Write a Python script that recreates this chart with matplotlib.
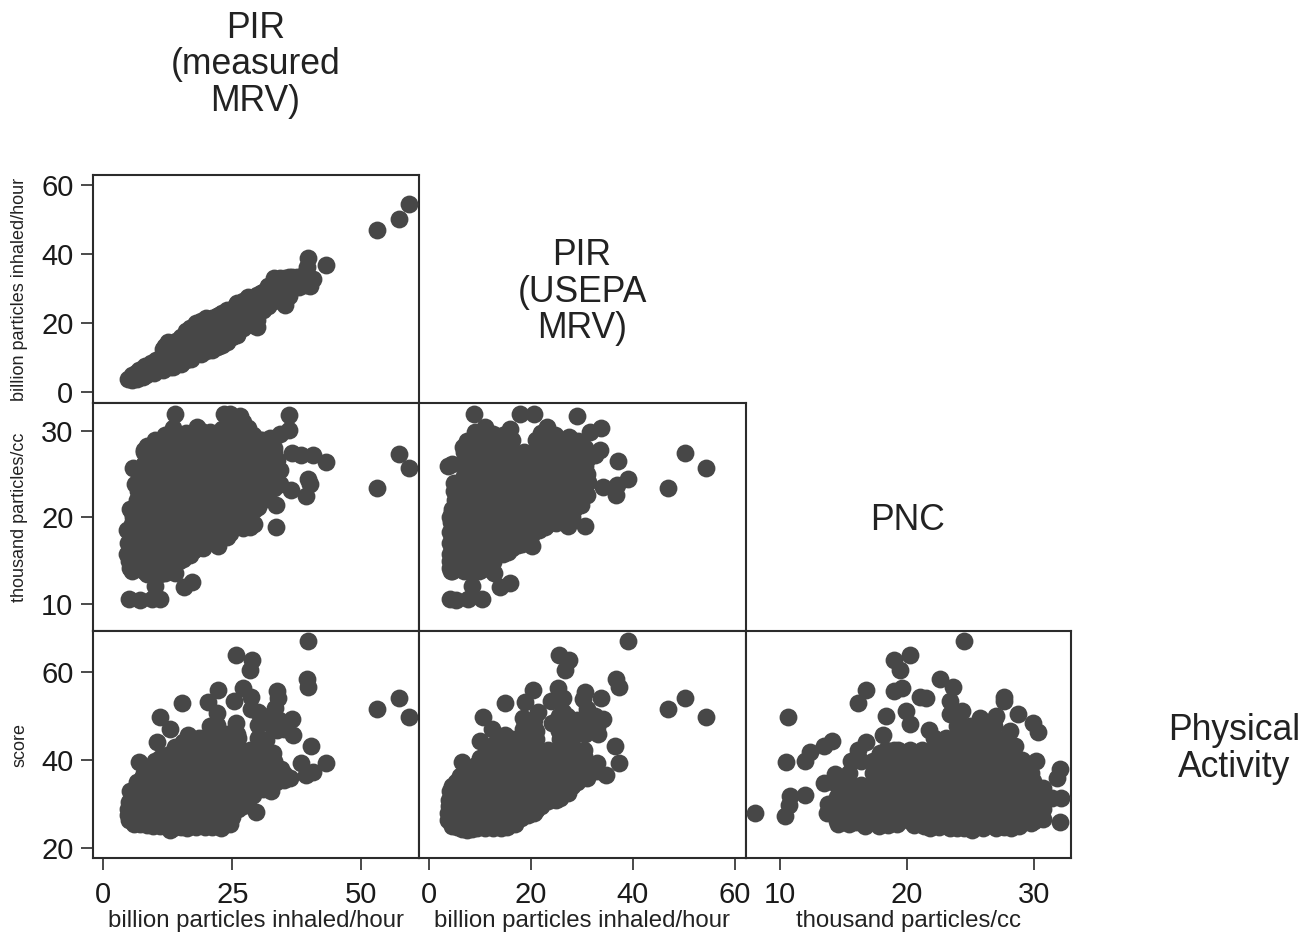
import matplotlib
matplotlib.use('Agg')
import matplotlib.pyplot as plt

plt.rcParams['font.family'] = ['Liberation Sans', 'DejaVu Sans']

# values, (x, y) for each panel
# top left: PIR measured MRV vs PIR USEPA MRV
measured_usepa = [
    (4.8,3.8),(5.5,3.6),(5.6,5.0),(6.2,4.2),(6.4,5.6),(6.9,6.6),(7.2,4.6),(7.6,5.8),(8,7.6),(8.3,5.0),
    (8.8,6.4),(9.2,8.4),(9.5,5.8),(9.8,7.2),(10.3,9.4),(10.5,6.4),(11,8),(11.3,10.2),(11.6,6.9),(12,9),
    (12.2,11.5),(12.6,14.7),(12.8,7.5),(13,10),(13.2,12.8),(13.6,7.4),(14,9),(14,11),(14.4,13.4),
    (15,8.3),(15,10.5),(15,12.5),(15,14.5),(15.2,15.5),(16,9.5),(16,11.5),(16,13.5),(16,15.5),(16,17),
    (17,10.5),(17,12.5),(17,14.5),(17,16.5),(16.8,18.6),(18,11),(18,13),(18,15),(18,17),(18,19),
    (19,11.5),(19,13.5),(19,15.5),(19,17.5),(19,19.5),(20,12),(20,14),(20,16),(20,18),(20,20),(20,21.4),
    (21,12.3),(21,14.3),(21,16.3),(21,18.3),(21,20.3),(21,21.5),(22,13),(22,15),(22,17),(22,19),(22,21),(22,22),
    (23,13.8),(23,15.8),(23,17.8),(23,19.8),(23,21.8),(23,23),(24,15),(24,17),(24,19),(24,21),(24,23),(24,24),
    (25,16),(25,18),(25,20),(25,22),(25,24),(25.8,25.3),(26,17),(26,19),(26,21),(26,23),(26,25),
    (27,18.5),(27,20.5),(27,22.5),(27,24.5),(27,26),(28,20),(28,22),(28,24),(28,26),(28,27.5),
    (29,21),(29,23),(29,25),(29,27),(29.7,19),(29.7,21),(29.7,23),(29.7,25),(29.7,27),(29.7,28.2),
    (31,24),(31,26),(31,28),(31,29),(32,25),(32,27),(32,29),(32,30.5),(33,26.5),(33,28.5),(33,30.5),(33,32),
    (34.2,27),(34.2,29),(34.2,31),(34.2,33),(35.2,25.3),(35.5,29.2),(35.2,31),(35.2,33),(36.5,30),(36.5,32),(36.5,33.5),
    (38,31.5),(38,33),(39.3,31.1),(39.3,33),(39.3,35),(39.4,36.4),(39.7,38.8),(40.7,32.8),(43.2,36.9),
    (53,47),(57.3,50.1),(59.2,54.5),
    (11.5,12.5),(12,13.5),(14,15),(18,20),(17.5,19.3),(15,16),(16,17.8),(19,20.8),(22.5,22.5),(27,26.5),(26,26),
    (30.5,28.7),(32,30.8),(33,33),(36,33.5),(37.5,33.5),(38,30.5),(40,30.8),(36,28),(29,19.5),(28.5,20.5),(26,16.5),
    (24,14.7),(22.5,13.3),(19,11),(17,9.7),(15,8.5),(13,7.4),(11.5,6.6),(9.8,5.5),(7.6,4.4),(6.5,3.8),
]

# middle left: PIR measured MRV vs PNC
measured_pnc = [
    (53,23.35),(57.3,27.4),(59.2,25.7),(43.2,26.4),(40.7,27.2),(38.4,27.2),(36.5,27.5),(39.7,24.5),(40,23.9),(39.3,22.5),
    (36.4,23.2),(33.5,21.4),(33.5,18.9),(35.9,31.9),(35.9,30.1),(34.2,29.7),(13.8,32),(13.6,30.3),(18.1,30.5),(23.3,32),
    (24.5,32),(26.5,31.7),(28.1,30.3),(24.9,29.9),(20.7,29.9),(10.3,28.6),(7.8,27.8),(5.7,25.7),(6.1,23.9),(5.8,20),
    (4.5,18.5),(4.5,15.8),(5.2,14.1),(13.9,13.6),(10,12.1),(17.1,12.5),(15.6,11.9),(5,10.6),(7.1,10.4),(9.4,10.6),
    (11,10.5),(8.4,13.5),(16.8,15.6),(14.9,15.4),(22.3,16.7),(20,17),(28.4,18.9),(28.4,20),(25.2,18.9),(23.9,17.7),
    (30,21.2),(31.7,22.8),(34.2,23.9),(34.2,25.5),(33.6,26.6),(30.4,29),(32.3,29.2),(16,29.8),(23,30.2),
    (10.1,29),(12.4,29),(14.7,29),(17,29),(19.3,29),(21.6,29),(23.9,29),(26.2,29),(28.5,29),(30.8,29),
    (7.8,27.6),(10.1,27.6),(12.4,27.6),(14.7,27.6),(17,27.6),(19.3,27.6),(21.6,27.6),(23.9,27.6),(26.2,27.6),(28.5,27.6),(30.8,27.6),(33.1,27.6),
    (7.8,26.2),(10.1,26.2),(12.4,26.2),(14.7,26.2),(17,26.2),(19.3,26.2),(21.6,26.2),(23.9,26.2),(26.2,26.2),(28.5,26.2),(30.8,26.2),(33.1,26.2),
    (7.8,24.8),(10.1,24.8),(12.4,24.8),(14.7,24.8),(17,24.8),(19.3,24.8),(21.6,24.8),(23.9,24.8),(26.2,24.8),(28.5,24.8),(30.8,24.8),(33.1,24.8),
    (7.8,23.4),(10.1,23.4),(12.4,23.4),(14.7,23.4),(17,23.4),(19.3,23.4),(21.6,23.4),(23.9,23.4),(26.2,23.4),(28.5,23.4),(30.8,23.4),(33.1,23.4),
    (7.8,22),(10.1,22),(12.4,22),(14.7,22),(17,22),(19.3,22),(21.6,22),(23.9,22),(26.2,22),(28.5,22),(30.8,22),
    (5.5,20.6),(7.8,20.6),(10.1,20.6),(12.4,20.6),(14.7,20.6),(17,20.6),(19.3,20.6),(21.6,20.6),(23.9,20.6),(26.2,20.6),(28.5,20.6),
    (5.5,19.2),(7.8,19.2),(10.1,19.2),(12.4,19.2),(14.7,19.2),(17,19.2),(19.3,19.2),(21.6,19.2),(23.9,19.2),(26.2,19.2),
    (5.5,17.8),(7.8,17.8),(10.1,17.8),(12.4,17.8),(14.7,17.8),(17,17.8),(19.3,17.8),(21.6,17.8),
    (5.5,16.4),(7.8,16.4),(10.1,16.4),(12.4,16.4),(14.7,16.4),(17,16.4),(19.3,16.4),
    (5.5,15),(7.8,15),(10.1,15),(12.4,15),(14.7,15),
    (5.5,13.8),(7.8,13.8),(10.1,13.8),
    (6.5,22),(6.8,23),(5.2,21),(4.8,17),(5,15),(5.5,14),(8.5,28.3),(12,29.5),(15.5,29.6),(19,30),(22,29.5),(26.5,29.8),
    (27,31),(25.5,30.5),(29,29.5),(31.3,28.5),(33,28),(32.5,24),(32,23.3),(31,22),(29.5,21),(29.2,19.2),(27,18.8),
    (24.5,18.2),(22,18),(19,16.8),(17.5,16.2),(15.5,15.2),(13,14.5),(11,13.5),(12,13.6),
]

# middle centre: PIR USEPA MRV vs PNC
usepa_pnc = [
    (46.9,23.35),(50.2,27.5),(54.3,25.7),(37.1,26.5),(39.1,24.4),(36.8,23.7),(36.7,22.6),(34.2,23.5),(29.9,21.4),(30.6,19),
    (29,31.7),(33.7,30.3),(31.6,29.9),(33.5,27.8),(32.5,27.2),(8.9,32),(17.8,32),(20.5,32),(23.1,30.5),(15.9,30.2),
    (11,30.5),(9,29.9),(6.7,28.2),(3.7,25.9),(5.4,23.9),(5.1,22),(4.1,20),(4.1,18.3),(4.1,15.8),(4.1,14.1),
    (12.8,13.6),(8.4,12.1),(15.9,12.4),(13.9,11.9),(4.1,10.6),(5.2,10.4),(7.7,10.6),(10.3,10.5),(20.1,16.7),(18.2,16.9),
    (14.6,15.8),(8.4,13.7),(22.7,18.9),(27.3,19),(26,19.9),(26.7,21.2),(30.9,22.6),(31.2,24.1),(30.6,25.9),(29.3,28.8),(26,29),
    (9.2,29),(11.55,29),(13.9,29),(16.25,29),(20.95,29),(23.3,29),(25.65,29),(28,29),
    (6.85,27.6),(9.2,27.6),(11.55,27.6),(13.9,27.6),(16.25,27.6),(18.6,27.6),(20.95,27.6),(23.3,27.6),(25.65,27.6),(28,27.6),(30.35,27.6),
    (4.5,26.2),(6.85,26.2),(9.2,26.2),(11.55,26.2),(13.9,26.2),(16.25,26.2),(18.6,26.2),(20.95,26.2),(23.3,26.2),(25.65,26.2),(28,26.2),(30.35,26.2),
    (6.85,24.8),(9.2,24.8),(11.55,24.8),(13.9,24.8),(16.25,24.8),(18.6,24.8),(20.95,24.8),(23.3,24.8),(25.65,24.8),(28,24.8),(30.35,24.8),
    (6.85,23.4),(9.2,23.4),(11.55,23.4),(13.9,23.4),(16.25,23.4),(18.6,23.4),(20.95,23.4),(23.3,23.4),(25.65,23.4),(28,23.4),(30.35,23.4),
    (6.85,22),(9.2,22),(11.55,22),(13.9,22),(16.25,22),(18.6,22),(20.95,22),(23.3,22),(25.65,22),(28,22),
    (4.5,20.6),(6.85,20.6),(9.2,20.6),(11.55,20.6),(13.9,20.6),(16.25,20.6),(18.6,20.6),(20.95,20.6),(23.3,20.6),(25.65,20.6),
    (4.5,19.2),(6.85,19.2),(9.2,19.2),(11.55,19.2),(13.9,19.2),(16.25,19.2),(18.6,19.2),(20.95,19.2),(23.3,19.2),
    (4.5,17.8),(6.85,17.8),(9.2,17.8),(11.55,17.8),(13.9,17.8),(16.25,17.8),(18.6,17.8),
    (4.5,16.4),(6.85,16.4),(9.2,16.4),(11.55,16.4),(13.9,16.4),(16.25,16.4),
    (4.5,15),(6.85,15),(9.2,15),(11.55,15),
    (4.5,13.8),(6.85,13.8),(9.2,13.8),
    (5,24),(5,23),(4.5,21),(4.3,19.5),(4.2,17),(4.2,15),(4.4,13.8),(7.5,28.8),(12.5,29.7),(14.5,29.5),(22,29.8),(23.5,29.8),
    (24.8,29.6),(27.5,29.3),(30.5,28),(31,26.8),(30.9,25),(29.5,22.5),(28.5,21),(28,20),(25,19.4),(21.5,18.5),(20,17.8),
    (17.5,16.8),(15.5,16),(12.5,14.8),(10.5,14),(9.8,13.8),
]

# bottom left: PIR measured MRV vs physical activity score
measured_score = [
    (39.7,67),(25.8,63.8),(28.9,62.7),(28.4,60.5),(39.4,58.3),(39.6,56.5),(53,51.7),(57.3,54.2),(59.2,49.7),(22.3,56),
    (27,56.4),(33.6,55.6),(33.9,54.1),(28.7,54.3),(25.4,53.5),(20.2,53.2),(15.3,53),(10.9,49.7),(13,47),(22,50.7),
    (28.7,51.5),(33.3,51.8),(36.5,49.4),(36.7,45.8),(25.8,48.4),(33.6,46.9),(31,50),(20.7,47.7),(16.5,45.8),(10.5,44.2),
    (13.9,42.9),(40.2,43.1),(7,39.5),(38.4,39.3),(43.2,39.3),(40.7,37.4),(39.3,36.7),(36.2,35.9),(32.9,41.6),(32.6,32.9),
    (29.6,28.2),(5.2,33),(4.7,27.6),(12.9,24.2),(16.2,24.5),(19.7,24.9),(22.9,24.6),(24.5,25.4),(9.7,25),(7.1,25.4),
    (30,48),(32,48.5),(30,45),(31.5,44.5),(34,49),(35,47),(30,51),(22,48),(24,46),(26,46),(18.5,45),(33,50),
    (5.5,26.2),(7.8,26.2),(10.1,26.2),(12.4,26.2),(14.7,26.2),(17,26.2),(19.3,26.2),(21.6,26.2),(23.9,26.2),
    (5.5,28.9),(7.8,28.9),(10.1,28.9),(12.4,28.9),(14.7,28.9),(17,28.9),(19.3,28.9),(21.6,28.9),(23.9,28.9),(26.2,28.9),
    (5.5,31.6),(7.8,31.6),(10.1,31.6),(12.4,31.6),(14.7,31.6),(17,31.6),(19.3,31.6),(21.6,31.6),(23.9,31.6),(26.2,31.6),(28.5,31.6),
    (7.8,34.3),(10.1,34.3),(12.4,34.3),(14.7,34.3),(17,34.3),(19.3,34.3),(21.6,34.3),(23.9,34.3),(26.2,34.3),(28.5,34.3),(30.8,34.3),
    (7.8,37),(10.1,37),(12.4,37),(14.7,37),(17,37),(19.3,37),(21.6,37),(23.9,37),(26.2,37),(28.5,37),(30.8,37),(33.1,37),(35,36.9),
    (10.1,39.7),(12.4,39.7),(14.7,39.7),(17,39.7),(19.3,39.7),(21.6,39.7),(23.9,39.7),(26.2,39.7),(28.5,39.7),(30.8,39.7),(33.1,39.7),
    (14.7,42.4),(17,42.4),(19.3,42.4),(21.6,42.4),(23.9,42.4),(26.2,42.4),(28.5,42.4),(30.8,42.4),
    (19.3,45.1),(21.6,45.1),(23.9,45.1),(26.2,45.1),
    (6,25.6),(8.4,25.2),(11,25),(13.5,24.6),(15,24.8),(18,24.9),(21,24.9),(25,27),(27,29.5),(29,32),(31,33.5),(33.5,35),
    (35,35.5),(34.5,38),(8.5,38.5),(9,36),(11,40.5),(12,41),(13,41.5),(15.5,44),(17,44.5),(27,42),(4.7,29),(4.9,30.5),
    (5,26.5),(6.5,35),(7.5,36),(15,43.5),
]

# bottom centre: PIR USEPA MRV vs physical activity score
usepa_score = [
    (39.1,67),(25.5,63.8),(27.4,62.7),(26.7,60.5),(36.6,58.3),(37.3,56.5),(46.9,51.7),(50.2,54.2),(54.3,49.7),(20.3,56),
    (25.2,56.4),(30.5,55.5),(33.7,54.2),(26.3,54.2),(24,53.5),(30.1,53.8),(18.8,53.2),(14.9,53),(10.5,49.7),(12.3,47),
    (21.4,51),(18.5,49.6),(26.3,51),(30.9,51.5),(34.2,49.4),(33.2,45.9),(31.9,47.7),(36.5,43.1),(37.3,39.3),(34.8,36.7),
    (32.9,39.3),(10,44.3),(14.9,45.8),(6.4,39.5),(4.1,33),(3.8,26.5),(7.4,24.2),(14.2,24.6),(11,24.6),(16.9,25.4),
    (20.5,28),(23.4,30.7),(27.3,32.6),(30.6,36.7),(24.1,48.4),(26.7,45.8),(20.1,46.5),
    (18.5,47),(20.5,49),(26,48),(27,50),(29,49),(30.5,46),(32.5,50),(30.35,41),
    (4.5,26),(6.85,26),(9.2,26),(11.55,26),(13.9,26),(16.25,26),
    (4.5,28.7),(6.85,28.7),(9.2,28.7),(11.55,28.7),(13.9,28.7),(16.25,28.7),(18.6,28.7),(20.95,28.7),
    (4.5,31.4),(6.85,31.4),(9.2,31.4),(11.55,31.4),(13.9,31.4),(16.25,31.4),(18.6,31.4),(20.95,31.4),(23.3,31.4),(25.65,31.4),
    (4.5,34.1),(6.85,34.1),(9.2,34.1),(11.55,34.1),(13.9,34.1),(16.25,34.1),(18.6,34.1),(20.95,34.1),(23.3,34.1),(25.65,34.1),(28,34.1),
    (6.85,36.8),(9.2,36.8),(11.55,36.8),(13.9,36.8),(16.25,36.8),(18.6,36.8),(20.95,36.8),(23.3,36.8),(25.65,36.8),(28,36.8),(30.35,36.8),
    (11.55,39.5),(13.9,39.5),(16.25,39.5),(18.6,39.5),(20.95,39.5),(23.3,39.5),(25.65,39.5),(28,39.5),(30.35,39.5),
    (13.9,42.2),(16.25,42.2),(18.6,42.2),(20.95,42.2),(23.3,42.2),(25.65,42.2),(28,42.2),(30.35,42.2),
    (16.25,44.9),(18.6,44.9),(20.95,44.9),(25.65,44.9),(28,44.9),
    (3.8,28),(3.9,29.5),(4,31),(4.5,25),(5.5,24.8),(6.5,24.3),(8.5,24.4),(9.5,24.5),(12.5,24.6),(15.3,24.9),(18,26.8),
    (19.5,27.5),(22,29.5),(25,31),(27,33.5),(29,35),(31,36),(33,37.5),(5.2,35),(6,36.5),(7.7,37.8),(9.2,39),(10,40.5),
    (11.5,42),(12.5,43.5),(14,44.5),(18.5,45),(20.5,47.5),(19,48.5),(21,46.5),(25.5,46.5),(27,47.5),(27,48.5),(25.5,50),
    (28,46),(29.5,47),(30.5,49.5),(32,48),(33,47.5),
]

# bottom right: PNC vs physical activity score
pnc_score = [
    (8,27.9),(10.6,49.7),(10.5,39.5),(10.4,27.3),(10.7,29.9),(10.8,31.8),(12,32),(12,39.7),(12.4,41.9),(13.5,43.1),
    (14.1,44.4),(13.5,34.8),(14.3,36.9),(13.7,28),(14.6,25.4),(16.1,53),(16.8,56),(19,55.6),(19.6,56.4),(19,62.7),
    (19.4,60.5),(20.2,63.8),(24.5,67),(22.6,58.3),(23.6,56.5),(21,54.3),(21.5,54.1),(23.4,53.3),(19.9,51.1),(20.2,48.2),
    (18.3,49.9),(18.1,45.8),(16.8,44.1),(16.1,42.4),(15.6,39.7),(27.6,54.3),(27.6,53.4),(28.7,50.5),(29.9,48.4),(30.3,46.4),
    (30.1,39.7),(32,37.9),(31.8,36),(32.1,31.3),(31.4,31.3),(32,25.9),(30.7,26.7),(24.3,51.1),(25.7,49.6),(27,50),
    (28.1,46.5),(28.5,43.1),(21.7,46.9),(23.9,47.7),(19,42.4),(17.9,41.6),(29.9,35.2),(16.7,25),(19.2,25.4),(21.8,24.6),
    (23.9,24.6),(25.1,24.2),(27,24.6),(28.2,24.6),(29.7,25.8),(23.4,50.5),(24,49),(29,40),(26.85,49),(16.4,39.7),
    (14.5,26.2),(15.45,26.2),(16.4,26.2),(17.35,26.2),(18.3,26.2),(19.25,26.2),(20.2,26.2),(21.15,26.2),(22.1,26.2),(23.05,26.2),(24,26.2),(24.95,26.2),(25.9,26.2),(26.85,26.2),(27.8,26.2),(28.75,26.2),(29.7,26.2),
    (14.5,28.9),(15.45,28.9),(16.4,28.9),(17.35,28.9),(18.3,28.9),(19.25,28.9),(20.2,28.9),(21.15,28.9),(22.1,28.9),(23.05,28.9),(24,28.9),(24.95,28.9),(25.9,28.9),(26.85,28.9),(27.8,28.9),(28.75,28.9),(29.7,28.9),(30.65,28.9),
    (14.5,31.6),(15.45,31.6),(16.4,31.6),(17.35,31.6),(18.3,31.6),(19.25,31.6),(20.2,31.6),(21.15,31.6),(22.1,31.6),(23.05,31.6),(24,31.6),(24.95,31.6),(25.9,31.6),(26.85,31.6),(27.8,31.6),(28.75,31.6),(29.7,31.6),(30.65,31.6),
    (14.5,34.3),(15.45,34.3),(16.4,34.3),(17.35,34.3),(18.3,34.3),(19.25,34.3),(20.2,34.3),(21.15,34.3),(22.1,34.3),(23.05,34.3),(24,34.3),(24.95,34.3),(25.9,34.3),(26.85,34.3),(27.8,34.3),(28.75,34.3),(29.7,34.3),(30.65,33.6),
    (15.45,37),(17.35,37),(18.3,37),(19.25,37),(20.2,37),(21.15,37),(22.1,37),(23.05,37),(24,37),(24.95,37),(25.9,37),(26.85,37),(27.8,37),(28.75,37),(29.7,37),
    (17.35,39.7),(18.3,39.7),(19.25,39.7),(20.2,39.7),(21.15,39.7),(22.1,39.7),(23.05,39.7),(24,39.7),(24.95,39.7),(25.9,39.7),(26.85,39.7),(27.8,39.7),(28.75,39.7),
    (18.3,42.4),(19.25,42.4),(20.2,42.4),(21.15,42.4),(22.1,42.4),(23.05,42.4),(24,42.4),(24.95,42.4),(25.9,42.4),(26.85,42.4),(27.8,42.4),
    (22.1,45.1),(23.05,45.1),(24,45.1),(24.95,45.1),(25.9,45.1),(26.85,45.1),(27.8,45.1),
    (24,47.8),(24.95,47.8),(25.9,47.8),(26.85,47.8),
    (15.4,25.5),(16,26),(17.8,25),(18.5,25.2),(20.5,25.2),(21.3,25),(22.5,24.8),(23.4,24.7),(24.5,24.7),(26,24.6),
    (27.6,24.8),(28.8,25),(30,26.3),(30.4,28),(14,29),(13.8,30),
]

ticks_measured = [0, 25, 50]
ticks_usepa_x = [0, 20, 40, 60]
ticks_usepa_y = [0, 20, 40, 60]
ticks_pnc = [10, 20, 30]
ticks_score = [20, 40, 60]

W, H = 1310, 933
DARK = '#474747'
LINE = '#2b2b2b'

fig = plt.figure(figsize=(W / 100, H / 100), dpi=100)


def panel(left, right, top, bottom):
    # axes box given in pixels of the picture
    return fig.add_axes([left / W, 1 - bottom / H, (right - left) / W, (bottom - top) / H])


def draw(ax, pairs, xlim, ylim):
    xs = [p[0] for p in pairs]
    ys = [p[1] for p in pairs]
    ax.scatter(xs, ys, s=165, color=DARK, linewidths=0, zorder=3)
    ax.set_xlim(xlim)
    ax.set_ylim(ylim)
    ax.set_xticks([])
    ax.set_yticks([])
    for s in ax.spines.values():
        s.set_linewidth(1.5)
        s.set_color(LINE)
    ax.tick_params(length=8.6, width=1.2, color=LINE, labelsize=21, labelcolor='#1a1a1a')
    ax.tick_params(axis='y', pad=5.5)
    ax.tick_params(axis='x', pad=8)


col_x = [(93, 418.5), (419, 745.5), (745.5, 1071)]
row_y = [(175, 403), (403, 630.5), (630.5, 858)]
xlims = [(-2.0, 61.1), (-1.96, 62.06), (7.29, 32.88)]
ylims = [(-3.1, 63), (6.9, 33.25), (17.8, 69.4)]

ax_a = panel(col_x[0][0], col_x[0][1], row_y[0][0], row_y[0][1])
draw(ax_a, measured_usepa, xlims[0], ylims[0])
ax_b = panel(col_x[0][0], col_x[0][1], row_y[1][0], row_y[1][1])
draw(ax_b, measured_pnc, xlims[0], ylims[1])
ax_c = panel(col_x[1][0], col_x[1][1], row_y[1][0], row_y[1][1])
draw(ax_c, usepa_pnc, xlims[1], ylims[1])
ax_d = panel(col_x[0][0], col_x[0][1], row_y[2][0], row_y[2][1])
draw(ax_d, measured_score, xlims[0], ylims[2])
ax_e = panel(col_x[1][0], col_x[1][1], row_y[2][0], row_y[2][1])
draw(ax_e, usepa_score, xlims[1], ylims[2])
ax_f = panel(col_x[2][0], col_x[2][1], row_y[2][0], row_y[2][1])
draw(ax_f, pnc_score, xlims[2], ylims[2])

ax_a.set_yticks(ticks_usepa_y)
ax_b.set_yticks(ticks_pnc)
ax_d.set_yticks(ticks_score)
ax_d.set_xticks(ticks_measured)
ax_e.set_xticks(ticks_usepa_x)
ax_f.set_xticks(ticks_pnc)

# side and bottom axis titles
for lab, ypos in [('billion particles inhaled/hour', 289.5),
                  ('thousand particles/cc', 517.5),
                  ('score', 745)]:
    fig.text(20 / W, 1 - ypos / H, lab, rotation=90, ha='center', va='center', fontsize=13, color='#222222')

for x_pos, lab in [(255.5, 'billion particles inhaled/hour'),
                   (582, 'billion particles inhaled/hour'),
                   (908, 'thousand particles/cc')]:
    fig.text(x_pos / W, 1 - 921 / H, lab, ha='center', va='center', fontsize=17.3, color='#222222')

# titles on the diagonal
for x_pos, y_pos, lab in [(255.5, 65, 'PIR\n(measured\nMRV)'),
                          (582, 292, 'PIR\n(USEPA\nMRV)'),
                          (908, 520, 'PNC'),
                          (1234, 749, 'Physical\nActivity')]:
    fig.text(x_pos / W, 1 - y_pos / H, lab, ha='center', va='center', fontsize=25.6,
             linespacing=1.05, color='#222222')

fig.savefig('out.png', dpi=100)
